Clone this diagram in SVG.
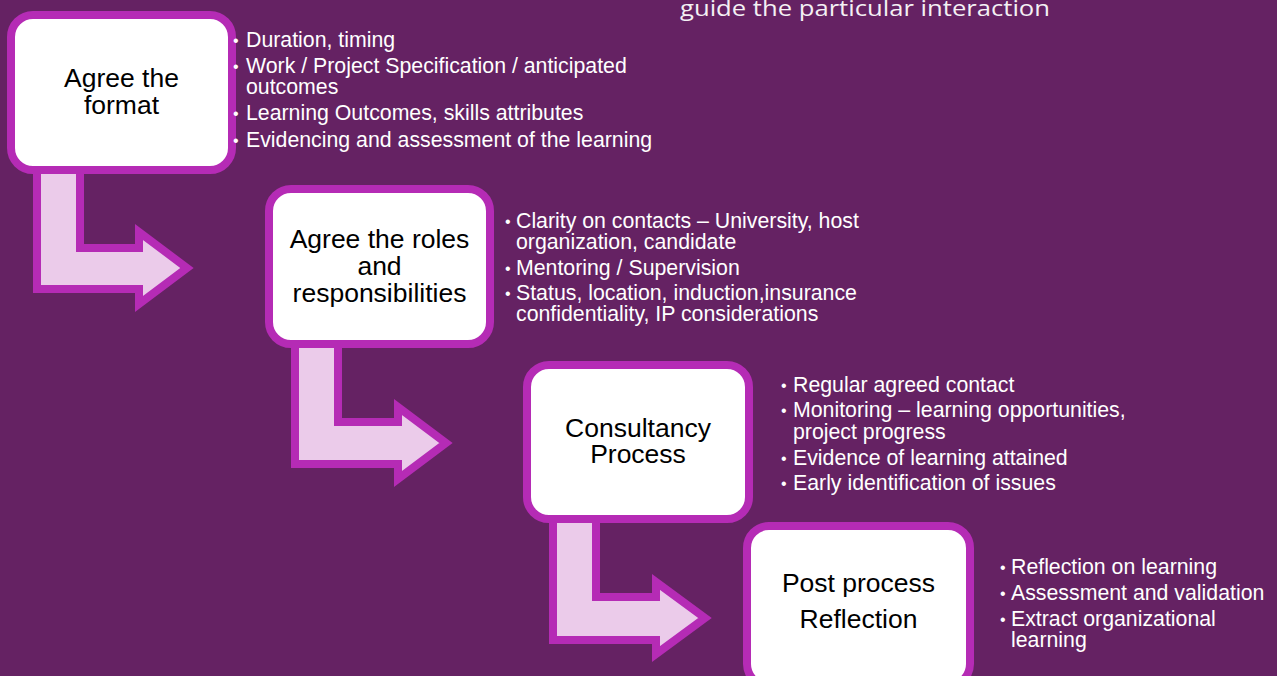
<svg xmlns="http://www.w3.org/2000/svg" width="1277" height="676" viewBox="0 0 1277 676">
  <defs>
    <style>
      .bg { fill: #652263; }
      .box { fill: #ffffff; stroke: #b52bb5; stroke-width: 8; }
      .arrow { fill: #ebcbea; stroke: #b52bb5; stroke-width: 8; stroke-linejoin: miter; }
      .head { font-family: "Liberation Sans", Arial, sans-serif; font-size: 26.5px; fill: #000000; text-anchor: middle; }
      .list { font-family: "Liberation Sans", Arial, sans-serif; font-size: 21.3px; fill: #ffffff; }
      .dot { font-family: "Liberation Sans", Arial, sans-serif; font-size: 16px; fill: #ffffff; }
      .title { font-family: "Open Sans", "Liberation Sans", sans-serif; font-size: 21px; fill: #f4f0f4; }
    </style>
  </defs>

  <rect class="bg" x="0" y="0" width="1277" height="676"/>

  <!-- heading line running off the top edge -->
  <text class="title" x="680" y="16" textLength="370" lengthAdjust="spacingAndGlyphs">guide the particular interaction</text>

  <!-- bent arrows leading from each stage down to the next -->
  <g id="connectors">
    <path class="arrow" d="M37,168 L80,168 L80,248 L139,248 L139,232 L187,268 L139,304 L139,289 L37,289 Z"/>
    <path class="arrow" d="M295,342 L338,342 L338,422 L398,422 L398,407 L446,443 L398,479 L398,464 L295,464 Z"/>
    <path class="arrow" d="M553,517 L596,517 L596,597 L656,597 L656,582 L705,618 L656,654 L656,640 L553,640 Z"/>
  </g>

  <!-- stage 1 -->
  <g id="node-format">
    <rect class="box" x="11" y="15" width="221" height="155" rx="22"/>
    <text class="head" x="121.5" y="87">Agree the<tspan x="121.5" y="114">format</tspan></text>
    <text class="dot" x="233" y="46">•<tspan x="233" y="72">•</tspan><tspan x="233" y="119">•</tspan><tspan x="233" y="146">•</tspan></text>
    <text class="list" x="246" y="47">Duration, timing<tspan x="246" y="73">Work / Project Specification / anticipated</tspan><tspan x="246" y="94">outcomes</tspan><tspan x="246" y="120">Learning Outcomes, skills attributes</tspan><tspan x="246" y="147">Evidencing and assessment of the learning</tspan></text>
  </g>

  <!-- stage 2 -->
  <g id="node-roles">
    <rect class="box" x="269" y="189" width="221" height="155" rx="22"/>
    <text class="head" x="379.5" y="248">Agree the roles<tspan x="379.5" y="275">and</tspan><tspan x="379.5" y="302">responsibilities</tspan></text>
    <text class="dot" x="505" y="227">•<tspan x="505" y="274">•</tspan><tspan x="505" y="299">•</tspan></text>
    <text class="list" x="516" y="228">Clarity on contacts – University, host<tspan x="516" y="249">organization, candidate</tspan><tspan x="516" y="275">Mentoring / Supervision</tspan><tspan x="516" y="300">Status, location, induction,insurance</tspan><tspan x="516" y="321">confidentiality, IP considerations</tspan></text>
  </g>

  <!-- stage 3 -->
  <g id="node-consultancy">
    <rect class="box" x="527" y="365" width="222" height="154" rx="22"/>
    <text class="head" x="638" y="437">Consultancy<tspan x="638" y="463">Process</tspan></text>
    <text class="dot" x="781" y="391">•<tspan x="781" y="416">•</tspan><tspan x="781" y="464">•</tspan><tspan x="781" y="489">•</tspan></text>
    <text class="list" x="793" y="392">Regular agreed contact<tspan x="793" y="417">Monitoring – learning opportunities,</tspan><tspan x="793" y="439">project progress</tspan><tspan x="793" y="465">Evidence of learning attained</tspan><tspan x="793" y="490">Early identification of issues</tspan></text>
  </g>

  <!-- stage 4 -->
  <g id="node-reflection">
    <rect class="box" x="747" y="526" width="223" height="160" rx="22"/>
    <text class="head" x="858.5" y="592">Post process<tspan x="858.5" y="628">Reflection</tspan></text>
    <text class="dot" x="1000" y="573">•<tspan x="1000" y="599">•</tspan><tspan x="1000" y="625">•</tspan></text>
    <text class="list" x="1011" y="574">Reflection on learning<tspan x="1011" y="600">Assessment and validation</tspan><tspan x="1011" y="626">Extract organizational</tspan><tspan x="1011" y="647">learning</tspan></text>
  </g>
</svg>
